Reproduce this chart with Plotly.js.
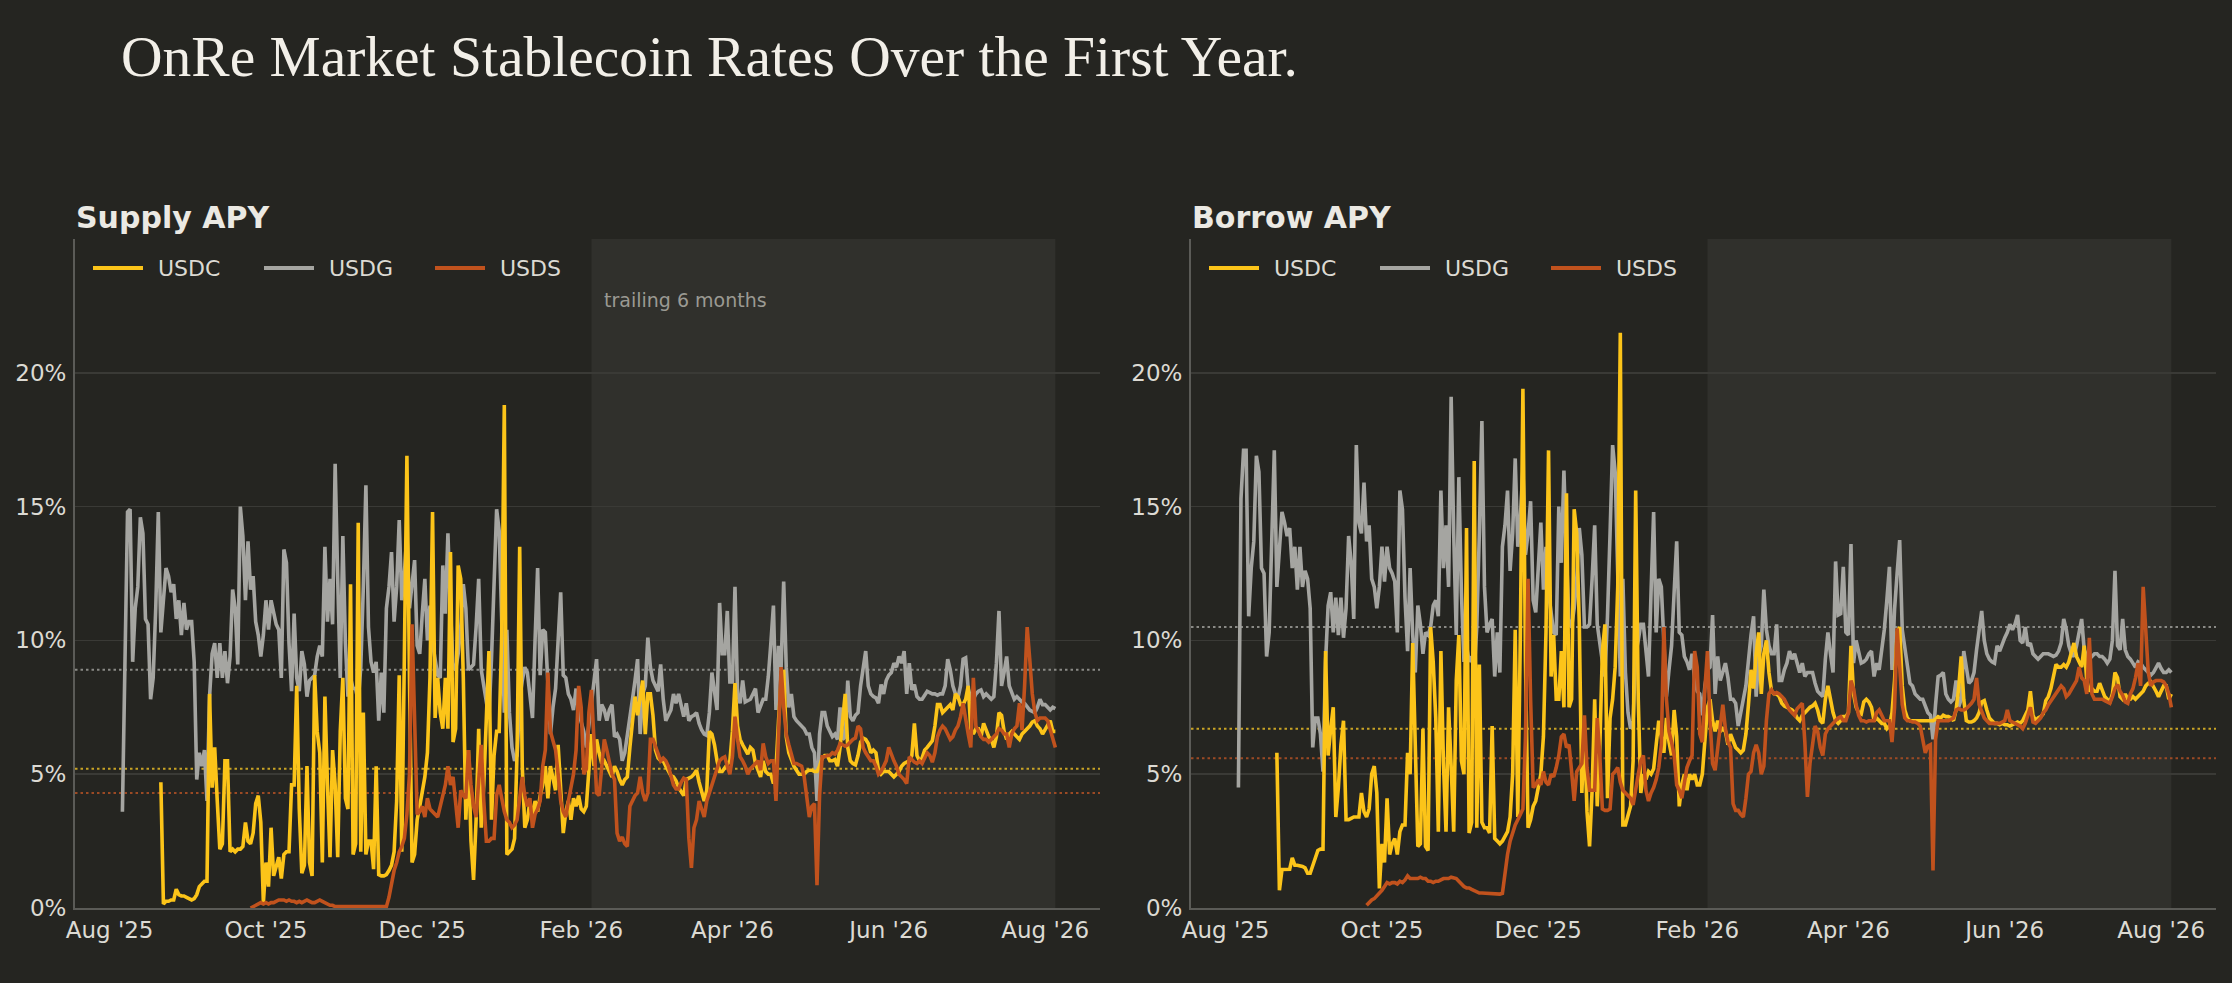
<!DOCTYPE html>
<html>
<head>
<meta charset="utf-8">
<script src="https://cdn.plot.ly/plotly-3.0.1.min.js"></script>
<style>
  html, body { margin: 0; padding: 0; background: #252521; }
  #chart { width: 2232px; height: 983px; }
</style>
</head>
<body>
<div id="chart"></div>
<script>
// ---------------- DATA ----------------
const seriesNames = ['USDC', 'USDG', 'USDS'];
const startUSDC = '2025-08-21';
const startUSDG = '2025-08-06';
const startUSDS = '2025-09-25';

const supplyUSDG = [
3.6,9.5,14.8,14.9,9.2,11.2,12.0,14.6,14.0,10.8,
10.6,7.8,8.6,11.2,14.8,10.3,11.5,12.7,12.4,11.8,
12.1,10.8,11.5,10.2,11.4,10.4,10.7,10.7,9.2,4.8,
5.8,5.3,5.9,4.0,7.9,9.5,9.9,8.6,9.9,8.6,
9.6,8.4,9.4,11.9,11.2,9.1,15.0,13.9,11.5,13.7,
11.9,12.4,10.7,10.2,9.4,10.2,11.5,10.4,11.5,11.0,
10.6,10.4,8.6,13.4,12.9,9.9,8.1,11.0,8.6,8.1,
9.6,9.1,7.9,8.5,8.6,8.7,9.4,9.8,9.4,13.5,
10.7,12.3,10.6,16.6,12.3,8.6,13.9,9.9,7.9,
8.6,
8.2,8.2,7.7,9.0,12.0,15.8,10.5,9.2,8.8,9.2,
7.0,8.8,7.3,11.2,12.0,13.3,10.7,12.0,14.5,11.5,
12.5,14.0,11.2,12.0,13.0,9.8,9.5,11.0,12.3,10.0,
11.3,9.9,9.2,8.7,8.6,12.8,11.0,14.0,11.2,9.0,
8.9,9.5,10.5,12.1,11.2,8.9,9.0,9.1,10.5,12.3,
8.9,8.3,7.8,7.1,9.3,12.0,14.9,14.1,10.2,7.3,
10.4,7.3,6.0,5.5,5.7,7.8,8.5,9.0,8.8,7.9,
7.1,10.0,12.7,8.7,10.4,10.3,8.1,6.5,7.5,8.2,
10.0,11.8,8.7,8.6,8.0,7.8,7.4,8.2,7.3,6.9,
6.6,6.0,6.8,7.5,8.3,9.3,7.0,7.6,7.4,7.0,
7.4,7.6,6.4,6.5,6.3,5.5,5.8,6.4,7.0,7.8,
8.5,9.3,6.5,8.0,8.3,10.1,9.0,8.5,8.3,8.1,
9.1,7.8,7.0,7.2,7.4,8.0,7.65,8.0,7.6,7.15,
7.65,7.0,7.15,7.2,7.3,6.9,6.65,6.5,6.45,7.3,
8.8,8.0,7.4,11.4,9.5,9.5,11.1,8.45,8.45,12.0,
8.0,7.65,8.5,7.7,7.75,7.8,8.0,8.2,7.3,7.6,
7.8,7.8,
8.65,9.9,11.3,7.4,9.8,9.0,12.2,9.0,7.5,8.0,7.15,7.0,6.9,6.8,6.7,6.5,6.5,6.0,5.8,4.0,6.5,7.3,
7.3,6.8,6.6,6.4,6.5,6.3,7.5,6.3,6.4,8.5,
7.15,7.0,7.2,7.3,8.3,9.0,9.6,8.3,8.0,7.9,
7.85,7.65,8.35,8.0,8.5,8.7,8.8,9.15,9.0,9.4,
9.15,9.6,8.0,9.15,8.15,8.35,7.9,7.8,7.8,7.95,
8.1,8.05,8.0,8.0,7.95,8.0,8.0,8.3,9.3,8.9,
8.3,8.0,7.85,8.3,9.3,9.35,8.2,7.8,7.8,8.0,
8.1,8.15,7.9,8.0,7.9,7.8,7.9,9.15,11.1,8.3,
8.8,9.4,8.3,8.0,7.8,7.9,7.8,7.7,7.65,7.5,
7.4,7.35,7.3,7.5,7.8,7.6,7.6,7.5,7.4,7.5,
7.45
];

const borrowUSDG = [
4.5,15.3,17.1,17.1,10.9,12.7,13.7,16.9,16.3,12.7,
12.5,9.4,10.3,13.2,17.1,12.0,13.5,14.8,14.4,13.9,
14.2,12.7,13.5,11.9,13.5,12.0,12.6,12.3,11.2,6.0,
7.1,7.1,6.5,5.1,9.2,11.3,11.8,10.3,11.6,10.2,
11.6,10.1,11.2,13.9,12.9,10.8,17.3,14.4,14.0,15.9,
13.7,14.3,12.3,12.0,11.2,12.0,13.5,12.2,13.5,12.7,
12.5,12.2,10.3,15.6,14.9,11.6,9.6,12.7,10.2,8.8,
11.3,10.6,9.5,10.3,10.2,10.5,11.3,11.5,10.9,15.6,
12.7,14.3,12.0,19.1,14.0,10.2,16.1,11.8,9.2,
9.8,
9.2,9.4,8.8,10.5,14.0,18.2,12.0,10.3,10.6,10.8,
8.65,10.3,8.8,13.5,14.3,15.6,12.6,14.0,16.8,13.5,
14.6,16.4,13.2,14.0,15.2,11.5,11.05,12.8,14.4,11.9,
13.5,11.8,10.9,10.3,10.2,15.0,12.9,16.35,13.2,10.6,
10.5,11.2,12.3,14.2,13.2,10.5,10.5,10.6,12.3,14.3,
10.6,9.8,9.2,8.65,10.9,14.0,17.3,16.3,12.0,8.65,
12.3,8.8,7.3,6.7,7.0,9.5,10.0,10.6,10.6,9.5,
8.65,11.8,14.8,10.3,12.3,12.0,9.6,7.9,8.9,9.8,
11.8,13.7,10.3,10.2,9.4,9.2,8.9,9.5,8.5,8.1,
8.0,7.2,8.3,8.9,9.0,10.95,8.0,9.4,8.5,8.8,
9.15,8.6,7.8,7.8,7.65,6.8,7.4,7.8,8.3,9.4,
10.2,10.9,7.9,9.4,9.8,11.9,10.4,9.8,9.5,9.5,
10.6,8.5,8.5,8.9,9.15,9.6,9.3,9.5,9.1,8.8,
9.15,8.65,8.8,8.8,8.8,8.4,8.1,8.0,7.9,9.3,
10.3,9.5,8.8,12.95,10.95,11.0,12.75,10.3,10.2,13.6,
9.15,10.0,9.5,9.15,9.2,9.3,9.5,9.6,8.65,9.15,
8.9,9.6,
10.4,11.5,12.75,8.9,11.15,12.5,13.75,10.4,9.8,9.0,8.4,8.3,8.0,7.9,7.8,7.8,7.5,7.3,7.2,6.3,7.6,8.65,
8.7,8.8,8.0,7.8,7.7,7.8,8.5,7.5,7.8,9.6,
9.0,8.4,8.5,8.8,9.65,10.3,11.1,10.0,9.5,9.3,
9.2,9.15,9.8,9.6,9.9,10.1,10.3,10.6,10.4,10.6,
10.95,10.0,9.9,10.5,9.8,9.9,9.5,9.4,9.3,9.4,
9.5,9.5,9.5,9.45,9.4,9.45,9.6,9.9,10.8,10.4,
9.8,9.5,9.4,9.8,10.3,10.8,9.65,9.4,9.3,9.4,
9.5,9.5,9.4,9.4,9.3,9.15,9.3,10.0,12.6,9.8,
9.65,10.8,9.65,9.4,9.3,9.15,9.0,9.2,9.15,9.0,
8.9,8.8,8.7,8.8,9.0,9.15,8.95,8.8,8.8,8.9,
8.8
];

const supplyUSDC = [
4.7,0.15,0.25,0.25,0.3,0.3,0.7,0.5,0.45,0.45,
0.4,0.35,0.3,0.35,0.5,0.8,0.9,1.0,1.0,8.0,
4.5,6.0,4.0,2.2,2.4,5.5,5.5,2.1,2.2,2.1,
2.2,2.2,2.3,3.2,2.5,2.4,2.8,3.9,4.2,3.2,
0.2,1.7,0.8,3.0,1.2,1.6,1.9,1.1,2.0,2.1,
2.1,4.6,4.6,8.3,3.7,1.3,1.6,5.3,1.7,1.2,
8.7,6.6,5.8,1.7,7.9,4.6,1.9,5.9,4.6,1.9,
6.6,8.6,4.1,3.7,12.1,
2.0,2.4,14.4,2.1,7.3,2.0,2.5,2.5,1.45,5.3,
1.25,1.2,1.2,1.25,1.4,1.6,2.1,4.0,8.7,2.1,
9.4,16.9,8.6,1.7,2.0,3.3,3.8,4.4,4.9,5.8,
8.6,14.8,7.1,8.6,7.3,6.7,8.6,6.7,13.3,6.2,
6.7,12.8,12.3,8.6,3.3,5.9,2.5,1.05,3.3,6.7,
3.0,4.6,7.3,9.6,3.3,5.7,6.6,6.6,10.2,18.8,
2.0,2.1,2.2,2.6,5.9,13.5,5.3,3.0,3.3,4.0,
3.3,4.0,3.6,4.2,4.6,5.3,4.1,5.3,4.9,4.4,
6.1,4.6,2.8,3.6,4.0,3.3,4.1,3.8,4.2,3.7,
3.6,3.8,5.0,
6.5,5.3,6.3,5.8,5.4,5.5,5.3,5.1,4.9,5.3,
5.1,4.8,4.6,4.8,4.9,6.0,7.15,7.9,7.2,7.9,
8.5,6.5,8.0,8.0,7.2,5.9,5.6,5.5,5.5,5.3,
5.1,4.95,4.9,4.75,4.5,4.35,4.2,4.8,4.85,4.9,
5.0,5.15,4.7,4.3,4.0,4.4,6.6,6.5,6.1,5.5,
5.1,5.1,5.25,5.4,5.5,6.6,8.4,6.8,6.3,6.1,
5.9,5.75,6.0,5.9,5.4,5.1,4.9,5.5,5.1,5.0,
5.0,4.65,5.2,7.0,8.5,8.9,6.4,5.8,5.5,5.3,
5.15,5.0,5.0,5.0,5.1,5.15,5.15,5.1,5.1,5.3,
5.6,
5.7,5.7,5.5,5.5,5.55,5.3,6.0,7.0,8.0,6.0,
5.5,5.4,5.35,5.7,6.2,6.35,6.3,6.15,5.8,5.9,
5.8,5.15,5.0,5.1,5.1,5.1,5.0,4.9,5.0,5.1,
5.3,5.4,5.45,5.5,5.7,6.9,5.7,5.5,5.6,5.9,
6.0,6.15,6.25,6.8,7.6,7.6,7.3,7.4,7.5,7.6,
7.4,8.0,7.9,7.6,7.6,7.8,8.3,6.7,6.5,6.7,
6.7,6.4,6.9,6.6,6.4,6.3,6.0,6.4,7.3,7.2,
6.6,6.3,6.5,6.6,6.5,6.4,6.3,6.5,6.6,6.7,
6.8,6.95,7.0,6.8,6.7,6.5,6.65,6.8,7.0,6.6,
6.6
];

const borrowUSDC = [
5.8,0.66,1.44,1.44,1.44,1.45,1.87,1.6,1.6,1.58,
1.55,1.5,1.3,1.3,1.6,1.9,2.15,2.2,2.2,9.6,
5.7,6.7,7.5,3.4,4.5,6.1,7.0,3.3,3.3,3.35,
3.4,3.4,3.4,4.3,3.6,3.4,3.7,5.0,5.3,4.3,
0.73,2.4,1.7,4.1,2.0,2.4,2.6,2.0,2.85,3.1,
3.1,5.8,5.0,9.9,5.3,2.3,2.4,6.7,2.3,2.15,
10.5,9.2,7.1,2.85,9.6,5.4,2.85,7.5,5.3,2.85,
8.5,10.2,5.5,5.0,14.2,
2.8,3.2,16.7,3.0,9.1,3.2,3.0,3.0,2.8,6.8,
2.6,2.5,2.4,2.5,2.7,2.85,3.4,5.0,10.4,3.4,
10.2,19.4,9.2,3.0,3.3,3.8,4.0,4.5,5.0,6.4,
10.3,17.1,8.65,10.2,7.8,7.8,9.6,7.5,15.5,7.5,
7.8,14.9,14.0,10.6,4.3,6.7,3.6,2.3,4.4,7.8,
3.8,6.0,9.6,10.6,4.1,7.1,7.8,9.0,12.0,21.5,
3.1,3.1,3.4,3.8,5.5,15.6,7.8,4.3,5.0,4.8,
5.1,5.0,5.2,6.0,7.0,6.4,5.8,7.1,6.2,5.7,
7.4,6.4,3.8,4.6,5.0,4.4,5.0,4.8,5.0,4.6,
4.6,5.0,6.5,
7.5,7.8,7.0,6.6,7.0,6.6,6.7,6.6,6.1,6.5,
6.2,6.0,5.9,5.8,5.9,6.5,7.6,8.9,8.2,9.5,
10.3,8.0,9.5,10.0,8.8,8.1,8.0,8.0,7.9,7.65,
7.55,7.5,7.45,7.4,7.3,7.1,7.0,7.2,7.3,7.4,
7.5,7.55,7.65,7.4,7.0,6.9,7.8,8.3,7.8,7.3,
7.0,6.9,7.0,7.15,7.15,7.3,9.8,8.0,7.5,7.3,
7.25,7.7,7.8,7.7,7.5,7.0,7.1,7.0,6.9,6.9,
6.7,6.8,7.3,8.5,10.3,10.5,8.3,7.4,7.1,7.0,
7.0,7.0,7.0,7.0,7.0,7.0,7.0,7.0,7.0,7.05,
7.15,
7.1,7.2,7.15,7.15,7.1,7.0,7.4,8.2,9.4,7.8,
7.0,6.95,6.95,7.0,7.1,7.3,7.7,7.75,7.4,7.1,
7.0,6.9,6.9,6.85,6.9,6.85,6.85,6.8,6.85,6.9,
6.95,6.9,7.0,7.2,7.4,8.1,7.2,7.0,7.1,7.15,
7.25,7.75,7.9,8.2,8.7,9.1,9.0,9.0,9.1,9.0,
9.2,9.5,9.9,9.4,9.2,9.0,9.8,8.5,8.1,8.2,
8.1,8.1,8.4,8.1,7.9,7.8,7.7,8.0,8.8,8.6,
7.9,7.8,8.0,7.8,7.8,7.9,7.8,7.9,8.0,8.1,
8.3,8.4,8.45,8.3,8.1,7.9,8.1,8.3,8.3,7.8,
8.0
];

const supplyUSDS = [
0.0,0.05,0.1,0.15,0.2,0.15,0.2,0.15,0.2,0.2,
0.25,0.3,0.3,0.3,0.25,0.3,0.25,0.25,0.2,0.25,
0.2,0.25,0.3,0.25,0.2,0.2,0.25,0.3,0.25,0.2,
0.15,0.1,0.1,0.05,0.05,0.05,0.05,0.05,0.05,0.05,
0.05,0.05,0.05,0.05,0.05,0.05,0.05,0.05,0.05,0.05,
0.05,0.05,0.05,
0.05,0.4,1.0,1.4,1.7,2.1,2.3,2.6,3.5,5.0,
10.6,7.3,3.5,3.6,3.8,3.4,4.1,3.7,3.6,3.5,
3.4,3.8,4.2,4.6,5.3,4.6,4.9,4.0,3.0,4.4,
4.2,4.1,5.9,4.6,3.8,3.4,4.6,6.1,4.0,2.5,
2.5,2.6,2.6,4.2,4.6,4.0,3.6,3.3,3.2,3.0,
3.1,3.3,4.0,4.9,4.2,3.8,4.1,3.0,3.5,3.7,
4.0,5.3,5.9,8.8,6.6,6.2,5.9,5.0,4.0,3.6,
3.4,4.0,4.6,5.0,5.9,
8.3,7.5,5.0,5.2,7.3,8.15,
6.5,4.3,4.2,5.3,6.3,5.9,5.5,5.0,4.8,2.8,
2.5,2.65,2.4,2.3,3.8,4.0,4.2,4.3,4.9,4.3,
4.0,4.3,6.3,6.3,6.0,5.8,5.5,5.6,5.5,5.3,
5.0,4.6,4.45,4.45,4.7,4.85,4.8,2.6,1.5,3.0,
3.3,4.0,3.7,3.4,4.0,4.3,4.5,4.8,5.15,5.5,
5.6,5.65,5.3,5.0,5.65,7.15,6.3,5.65,5.5,5.3,
5.0,5.2,5.3,5.4,5.5,5.15,6.15,5.65,5.4,5.5,
5.5,4.0,6.5,9.0,7.5,6.5,6.1,5.8,5.4,5.4,
5.35,5.3,4.9,4.2,3.4,3.8,3.9,0.85,4.2,5.65,
5.65,5.7,5.7,5.8,5.75,5.9,6.15,6.1,6.05,6.1,
6.2,6.3,6.35,6.8,6.7,6.0,5.8,5.65,5.5,5.5,
5.3,5.0,5.1,5.3,5.5,6.0,5.7,5.5,5.3,5.0,
4.9,4.8,4.65,5.65,5.55,5.45,5.4,5.5,5.4,5.6,
5.8,5.7,5.45,5.8,6.4,6.65,6.8,6.7,6.5,6.3,
6.4,6.65,6.8,7.15,7.65,7.0,6.5,6.0,8.6,6.8,
6.6,6.4,6.3,6.3,6.2,6.3,6.4,6.5,6.7,6.65,
6.5,6.5,6.0,6.5,6.7,6.8,7.65,6.65,8.3,10.5,
9.3,8.0,7.3,7.0,7.1,7.1,7.1,7.0,6.65,6.3,
6.0
];

const borrowUSDS = [
0.1,0.2,0.3,0.35,0.45,0.55,0.66,0.8,0.95,0.9,
0.95,0.95,0.9,1.0,0.95,1.05,1.2,1.1,1.1,1.1,
1.1,1.15,1.1,1.1,1.0,1.0,0.95,1.0,1.0,1.05,
1.1,1.1,1.1,1.15,1.13,1.1,1.0,0.9,0.8,0.75,
0.75,0.7,0.65,0.6,0.56,0.56,0.55,0.54,0.53,0.52,
0.52,0.52,0.52,
0.55,1.3,2.0,2.5,2.85,3.1,3.3,3.5,3.7,6.4,
12.3,7.8,4.5,4.6,4.8,4.6,5.1,4.7,4.6,5.0,
4.9,5.25,5.7,6.4,6.5,6.0,6.1,5.1,4.0,5.1,
5.25,5.4,7.2,5.25,4.4,4.4,4.4,7.1,5.7,3.7,
3.65,3.65,3.7,5.0,5.1,5.25,4.7,4.4,4.3,4.2,
4.1,3.85,4.55,5.0,5.5,5.7,4.4,4.0,4.3,4.5,
4.8,5.25,6.1,10.5,7.8,6.6,6.2,5.7,4.6,4.4,
4.1,4.7,5.25,5.5,5.7,
9.6,9.0,6.5,6.2,8.2,9.6,
7.0,5.4,5.15,6.0,7.0,7.6,6.7,6.2,6.0,3.9,
3.65,3.65,3.5,3.4,4.1,5.0,5.1,5.8,6.1,5.8,
5.0,5.3,7.0,8.0,8.15,8.0,8.05,8.0,7.9,7.8,
7.6,7.4,7.3,7.2,7.45,7.55,7.65,6.2,4.15,5.4,
6.2,6.8,6.6,6.0,5.7,6.5,6.7,6.8,6.9,7.0,
7.1,7.15,7.0,7.0,7.3,8.5,8.2,7.6,7.2,7.0,
7.0,6.95,7.0,7.0,7.0,7.3,7.4,7.2,7.0,7.0,
7.0,6.2,7.5,10.45,9.0,7.6,7.1,7.0,7.0,6.95,
6.95,6.9,6.8,6.3,5.8,6.05,6.1,1.4,6.3,7.0,
7.0,7.0,7.0,7.0,7.05,7.1,7.4,7.45,7.4,7.4,
7.45,7.55,7.65,7.8,8.6,7.6,7.3,7.1,7.0,6.9,
6.9,6.9,6.9,6.9,6.95,7.0,7.4,7.0,6.95,6.9,
6.85,6.8,6.7,6.9,7.2,7.5,6.95,6.9,7.0,7.1,
7.3,7.4,7.6,7.75,7.9,8.05,8.2,8.3,8.2,7.9,
8.0,8.15,8.3,8.5,9.0,8.6,8.5,8.0,10.1,8.0,
7.8,7.8,7.8,7.8,7.75,7.7,7.65,7.9,8.2,8.35,
8.1,7.95,7.7,7.65,8.0,8.2,8.6,9.15,8.3,12.0,
10.3,8.8,8.3,8.45,8.5,8.5,8.5,8.45,8.3,8.0,
7.5
];

// dotted reference levels (order: USDC, USDG, USDS)
const supplyAvg = [5.2, 8.9, 4.3];
const borrowAvg = [6.7, 10.5, 5.6];

const trailingStart = '2026-02-05';
const trailingEnd = '2026-08-05';

const tickDates = ['2025-08-01','2025-10-01','2025-12-01','2026-02-01','2026-04-01','2026-06-01','2026-08-01'];
const tickLabels = ["Aug '25","Oct '25","Dec '25","Feb '26","Apr '26","Jun '26","Aug '26"];
const yTickVals = [0, 5, 10, 15, 20];
const yTickLabels = ['0%', '5%', '10%', '15%', '20%'];

// ---------------- STYLE ----------------
const W = 2232, H = 983;
const BG = '#252521';
const SHADE = '#30302c';
const lineColors = { USDC: '#fcc419', USDG: '#a5a5a1', USDS: '#c1521d' };
const avgColors = { USDC: '#c9a425', USDG: '#8a8a86', USDS: '#9c4a24' };
const TXT = '#dcdad3';
const FONT = 'DejaVu Sans';
const LINE_W = 3.6;

function dayList(start, n) {
  const p = start.split('-').map(Number);
  const t0 = Date.UTC(p[0], p[1] - 1, p[2]);
  const out = [];
  for (let i = 0; i < n; i++) out.push(new Date(t0 + i * 86400000).toISOString().slice(0, 10));
  return out;
}

const panels = [
  { key: '', off: 0, data: { USDC: supplyUSDC, USDG: supplyUSDG, USDS: supplyUSDS }, avg: supplyAvg },
  { key: '2', off: 1116, data: { USDC: borrowUSDC, USDG: borrowUSDG, USDS: borrowUSDS }, avg: borrowAvg }
];
const starts = { USDC: startUSDC, USDG: startUSDG, USDS: startUSDS };
const drawOrder = ['USDG', 'USDC', 'USDS'];

const traces = [];
panels.forEach(p => {
  drawOrder.forEach(name => {
    const vals = p.data[name];
    traces.push({
      type: 'scatter', mode: 'lines',
      x: dayList(starts[name], vals.length), y: vals,
      name: name, showlegend: false,
      xaxis: 'x' + p.key, yaxis: 'y' + p.key,
      line: { color: lineColors[name], width: LINE_W },
      hoverinfo: 'skip'
    });
  });
});

const xRange = ['2025-07-18 12:00', '2026-08-22 10:00'];
const leftDom = [75 / W, 1100 / W];
const rightDom = [1191 / W, 2216 / W];
const yDom = [(H - 908) / H, (H - 239) / H];

function xAxis(dom, anchor) {
  return {
    domain: dom, anchor: anchor, type: 'date', range: xRange,
    tickmode: 'array', tickvals: tickDates, ticktext: tickLabels,
    showgrid: false, zeroline: false,
    showline: true, linecolor: '#5b5b57', linewidth: 2,
    ticks: '', ticklabelstandoff: 0,
    tickfont: { family: FONT, size: 23, color: TXT },
    fixedrange: true
  };
}
function yAxis(anchor) {
  return {
    domain: yDom, anchor: anchor, range: [0, 25],
    tickmode: 'array', tickvals: yTickVals, ticktext: yTickLabels,
    showgrid: true, gridcolor: '#3a3a36', gridwidth: 1.5,
    zeroline: false,
    showline: true, linecolor: '#5b5b57', linewidth: 2,
    ticks: '', ticklabelstandoff: 2,
    tickfont: { family: FONT, size: 23, color: TXT },
    fixedrange: true
  };
}

const shapes = [];
const annotations = [];
const legendY = 1 - 268 / H;
panels.forEach(p => {
  shapes.push({
    type: 'rect', layer: 'below', xref: 'x' + p.key, yref: 'y' + p.key + ' domain',
    x0: trailingStart, x1: trailingEnd, y0: 0, y1: 1,
    fillcolor: SHADE, line: { width: 0 }
  });
  seriesNames.forEach((name, i) => {
    shapes.push({
      type: 'line', layer: 'below', xref: 'x' + p.key + ' domain', yref: 'y' + p.key,
      x0: 0, x1: 1, y0: p.avg[i], y1: p.avg[i],
      line: { color: avgColors[name], width: 2, dash: '2.5px,3px' }
    });
    // legend key + label
    const kx = 93 + p.off + 171 * i;
    shapes.push({
      type: 'line', xref: 'paper', yref: 'paper',
      x0: kx / W, x1: (kx + 50) / W, y0: legendY, y1: legendY,
      line: { color: lineColors[name], width: 4 }
    });
    annotations.push({
      text: name, xref: 'paper', yref: 'paper', x: (kx + 63) / W, y: legendY,
      xanchor: 'left', yanchor: 'middle', showarrow: false,
      font: { family: FONT, size: 22, color: TXT }
    });
  });
});

annotations.push(
  { text: 'Supply APY', xref: 'paper', yref: 'paper', x: 74 / W, y: 1 - 217 / H,
    xanchor: 'left', yanchor: 'middle', showarrow: false,
    font: { family: FONT, size: 30, color: '#ebe9e3', weight: 700 } },
  { text: 'Borrow APY', xref: 'paper', yref: 'paper', x: 1190 / W, y: 1 - 217 / H,
    xanchor: 'left', yanchor: 'middle', showarrow: false,
    font: { family: FONT, size: 30, color: '#ebe9e3', weight: 700 } },
  { text: 'trailing 6 months', xref: 'x', yref: 'y domain', x: trailingStart, y: (908 - 300) / (908 - 239),
    xanchor: 'left', yanchor: 'middle', xshift: 11, showarrow: false,
    font: { family: FONT, size: 19, color: '#9b9a93' } }
);

const layout = {
  width: W, height: H,
  paper_bgcolor: BG, plot_bgcolor: BG,
  margin: { l: 0, r: 0, t: 0, b: 0, pad: 0 },
  font: { family: FONT, color: TXT },
  title: {
    text: 'OnRe Market Stablecoin Rates Over the First Year.',
    font: { family: 'Liberation Serif', size: 57.5, color: '#f2efe8' },
    xref: 'paper', yref: 'container', x: 121 / W, xanchor: 'left',
    y: 1 - 56 / H, yanchor: 'middle'
  },
  xaxis: xAxis(leftDom, 'y'),
  yaxis: yAxis('x'),
  xaxis2: xAxis(rightDom, 'y2'),
  yaxis2: yAxis('x2'),
  showlegend: false,
  shapes: shapes,
  annotations: annotations
};

Plotly.newPlot('chart', traces, layout, { displayModeBar: false, staticPlot: true });
</script>
</body>
</html>
